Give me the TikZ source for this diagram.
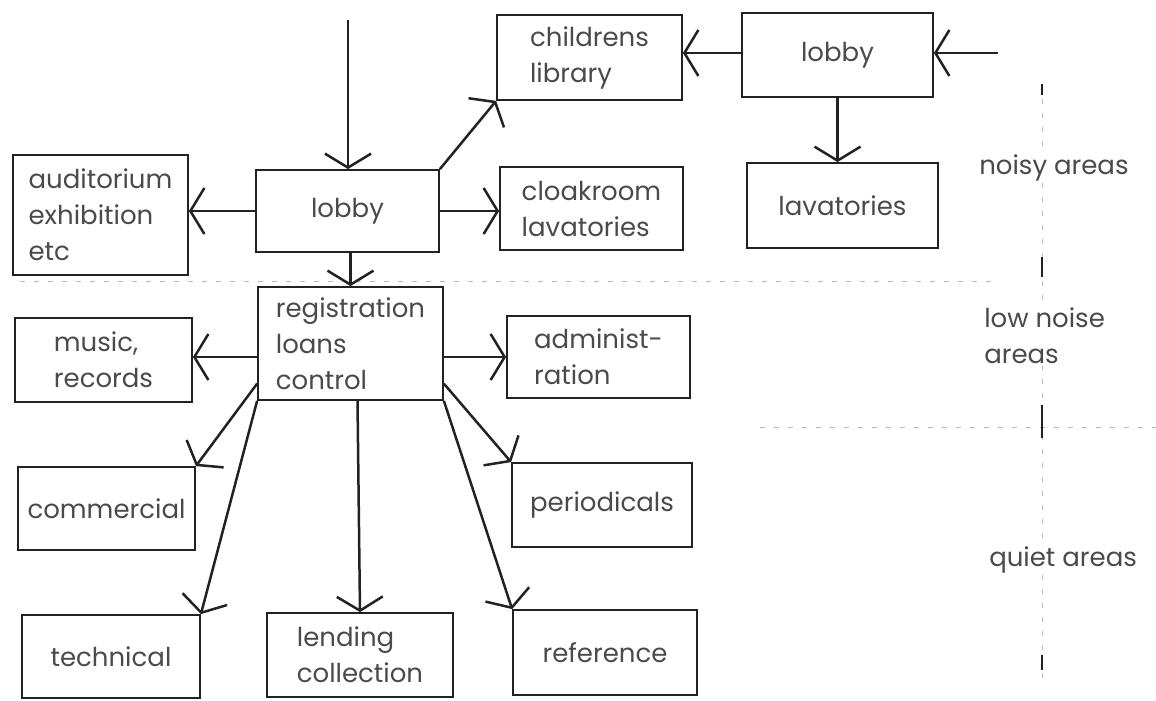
\documentclass[tikz,border=0pt]{standalone}
\usepackage{fontspec}
\setmainfont{Poppins}
\usetikzlibrary{positioning, arrows.meta, calc}
\definecolor{ink}{HTML}{222222}
\definecolor{pencil}{HTML}{4A4A4A}

\begin{document}
\begin{tikzpicture}[x=1pt, y=-1pt, >={Straight Barb[length=14pt,width=46pt]}, line width=2.5pt,
    box/.style={draw=ink, line width=1.8pt, text=pencil, align=left, inner sep=0pt,
                font=\fontsize{26}{36}\selectfont},
    arr/.style={->, draw=ink},
    zone/.style={text=pencil, align=left, fill=white, inner sep=2pt,
                 font=\fontsize{26}{36}\selectfont},
    divider/.style={draw=gray!55, line width=1pt, dash pattern=on 5pt off 9pt},
    tick/.style={draw=ink, line width=2.2pt}]

    \useasboundingbox (0,0) rectangle (1156,701);

    % ---------- noise zones ----------
    \draw[divider] (20,281) -- (1000,281);
    \draw[divider] (760,427) -- (1156,427);
    \draw[divider] (1042,85) -- (1042,680);
    \draw[tick] (1042,84) -- (1042,95);
    \draw[tick] (1042,257) -- (1042,277);
    \draw[tick] (1042,405) -- (1042,438);
    \draw[tick] (1042,655) -- (1042,670);

    \node[zone, anchor=west] (noisy) at (976,168) {noisy areas};
    \node[zone, anchor=west] (lownoise) at (981,336) {low noise\\areas};
    \node[zone, anchor=west] (quiet) at (986,560) {quiet areas};

    % ---------- entrance level ----------
    \node[box, minimum width=175, minimum height=120] (audit) at (100.5,215)
      {auditorium\\exhibition\\etc};
    \node[box, minimum width=183, minimum height=82] (lobby) at (347.5,211) {lobby};
    \node[box, minimum width=185, minimum height=85] (child) at (589.5,57.5)
      {childrens\\library};
    \node[box, minimum width=191, minimum height=84] (entry) at (837.5,55) {lobby};
    \node[box, minimum width=183, minimum height=83] (cloak) at (591.5,208.5)
      {cloakroom\\lavatories};
    \node[box, minimum width=191, minimum height=85] (lav) at (842.5,205.5) {lavatories};

    % ---------- control and departments ----------
    \node[box, minimum width=185, minimum height=113] (reg) at (350.5,343.5)
      {registration\\loans\\control};
    \node[box, minimum width=177, minimum height=84] (music) at (103.5,360)
      {music,\\records};
    \node[box, minimum width=183, minimum height=82] (admin) at (598.5,357)
      {administ-\\ration};
    \node[box, minimum width=177, minimum height=83] (comm) at (106.5,508.5) {commercial};
    \node[box, minimum width=180, minimum height=84] (period) at (602,505) {periodicals};
    \node[box, minimum width=178, minimum height=83] (tech) at (111,656.5) {technical};
    \node[box, minimum width=186, minimum height=84] (lend) at (360,655)
      {lending\\collection};
    \node[box, minimum width=184, minimum height=85] (ref) at (605,652.5) {reference};

    % ---------- ways in ----------
    \coordinate (street) at (348,20);
    \coordinate (side) at (998,53);
    \draw[arr] (street) -- (street |- lobby.north);
    \draw[arr] (side) -- (side -| entry.east);

    % ---------- circulation ----------
    \draw[arr] (lobby.west) -- (lobby.west -| audit.east);
    \draw[arr] (lobby.east) -- (lobby.east -| cloak.west);
    \draw[arr] (lobby.north east) -- (child.south west);
    \draw[arr] (lobby.south -| reg.north) -- (reg.north);
    \draw[arr] (entry.west |- side) -- (child.east |- side);
    \draw[arr] (entry.south) -- (entry.south |- lav.north);

    \draw[arr] (reg.west |- admin.west) -- (music.east |- admin.west);
    \draw[arr] (reg.east |- admin.west) -- (admin.west);
    \draw[arr] ($(reg.south west)!0.3!(reg.west)$) -- (comm.north east);
    \draw[arr] (reg.south west) -- (tech.north east);
    \draw[arr] ($(reg.south)+(7,0)$) -- (lend.north);
    \draw[arr] ($(reg.south east)!0.3!(reg.east)$) -- (period.north west);
    \draw[arr] (reg.south east) -- (ref.north west);

\end{tikzpicture}
\end{document}
